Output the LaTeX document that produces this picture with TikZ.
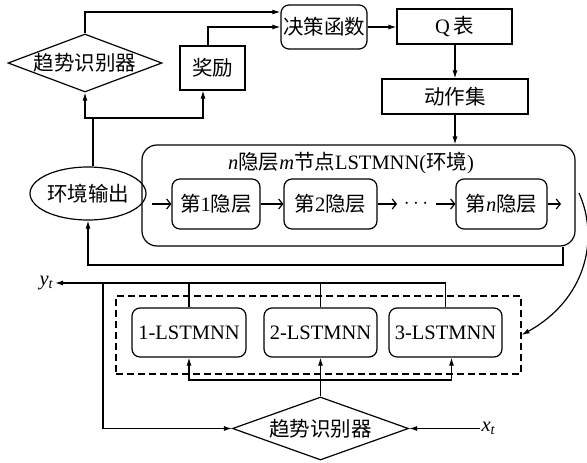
\documentclass[tikz,border=0pt]{standalone}
\usepackage{fontspec}
\setmainfont{Liberation Serif}
\newfontfamily\cjk{Noto Sans CJK SC}
\newcommand{\zh}[1]{{\cjk #1}}
\usetikzlibrary{arrows.meta,shapes.geometric,calc}
\begin{document}
\begin{tikzpicture}[x=1pt,y=-1pt,
  font=\fontsize{20.5pt}{23pt}\selectfont,
  line width=1.2pt,
  box/.style={draw, inner sep=0pt},
  rbox/.style={box, rounded corners=8pt},
  dia/.style={draw, shape=diamond, inner sep=0pt},
  arr/.style={-{Latex[length=8pt,width=5pt]}},
  iarr/.style={-{Straight Barb[length=4pt,width=10pt]}}]
\useasboundingbox (0,0) rectangle (587,463);

% top part
\node[dia, aspect=2.65, minimum width=154pt, minimum height=58pt] (d1) at (85,63) {\zh{趋势识别器}};
\node[box, minimum width=65pt, minimum height=44pt] (jl) at (212.5,68) {\zh{奖励}};
\node[rbox, minimum width=86pt, minimum height=44pt] (jc) at (324,27) {\zh{决策函数}};
\node[box, minimum width=115pt, minimum height=35pt] (q) at (454.5,26.5) {Q\,\zh{表}};
\node[box, minimum width=146pt, minimum height=35pt] (dz) at (455,96.5) {\zh{动作集}};

% big box
\node[draw, rounded corners=15pt, minimum width=433pt, minimum height=101pt, inner sep=0pt] (big) at (358.5,195.5) {};
\node (title) at (351,163) {\textit{n}\zh{隐层}\textit{m}\zh{节点}LSTMNN(\zh{环境})};
\node[rbox, minimum width=88pt, minimum height=50pt] (h1) at (216,204) {\zh{第}1\zh{隐层}};
\node[rbox, minimum width=93pt, minimum height=50pt] (h2) at (330.5,204) {\zh{第}2\zh{隐层}};
\node[rbox, minimum width=91pt, minimum height=50pt] (hn) at (501.5,204) {\zh{第}\textit{n}\zh{隐层}};
\node (dots) at (416,204) {$\cdots$};
\coordinate (hin) at (152,204);
\coordinate (hout) at (561,204);
\coordinate (d2a) at (397,204);
\coordinate (dna) at (436,204);
\draw[iarr] (hin) -- (h1.west);
\draw[iarr] (h1.east) -- (h2.west);
\draw[iarr] (h2.east) -- (d2a);
\draw[iarr] (dna) -- (hn.west);
\draw[iarr] (hn.east) -- (hout);

% environment output
\node[draw, ellipse, minimum width=105pt, minimum height=53pt, inner sep=0pt] (env) at (88,193.5) {\zh{环境输出}};

% connectors top
\coordinate (br) at (93,118);
\draw (br |- env.north) -- (br);
\draw[arr] (br) -| (d1.south);
\draw[arr] (br) -| ($(jl.south)+(-9.5,0)$);
\draw[arr] (d1.north) |- ($(jc.west)+(0,-15)$);
\draw[arr] ($(jl.north)+(-4.5,0)$) |- (jc.west);
\draw[arr] (jc.east) -- (jc.east -| q.west);
\draw[arr] (q.south -| dz.north) -- (dz.north);
\draw[arr] (dz.south) -- (dz.south |- big.north);

% feedback to environment output
\coordinate (fb) at (563,265);
\draw[arr] (big.south -| fb) -- (fb) -| (env.south);

% lower part
\node[draw, dash pattern=on 7pt off 4pt, minimum width=405pt, minimum height=78pt, inner sep=0pt] (dash) at (318.5,335) {};
\node[rbox, minimum width=114pt, minimum height=49pt] (l1) at (189,332.5) {1-LSTMNN};
\node[rbox, minimum width=113pt, minimum height=49pt] (l2) at (320.5,332.5) {2-LSTMNN};
\node[rbox, minimum width=113pt, minimum height=49pt] (l3) at (445.5,332.5) {3-LSTMNN};

% curved arrow
\coordinate (cs) at (579,193);
\draw[arr] (cs) .. controls (600,240) and (585,300) .. (dash.east);

% y_t output
\coordinate (yend) at (55,283);
\node[anchor=east, inner sep=1pt] (yt) at (yend) {\textit{y}\textsubscript{\textit{t}}};
\draw[arr] (l3.north) |- (yend);
\draw (l1.north) -- (l1.north |- yend);
\draw (l2.north) -- (l2.north |- yend);

% bottom diamond
\node[dia, aspect=2.8, minimum width=176pt, minimum height=63pt] (d2) at (320.5,428.5) {\zh{趋势识别器}};
\coordinate (lp) at (103,283);
\draw[arr] (lp) |- (d2.west);
\draw[arr] (d2.north) -- (l2.south);
\coordinate (bj) at (320.5,380);
\draw[arr] (bj) -| (l1.south);
\draw[arr] (bj) -| ($(l3.south)+(6,0)$);
\coordinate (xs) at (480,428.5);
\node[anchor=west, inner sep=1pt] (xt) at (xs) {\textit{x}\textsubscript{\textit{t}}};
\draw[arr] (xs) -- (d2.east);
\end{tikzpicture}
\end{document}
